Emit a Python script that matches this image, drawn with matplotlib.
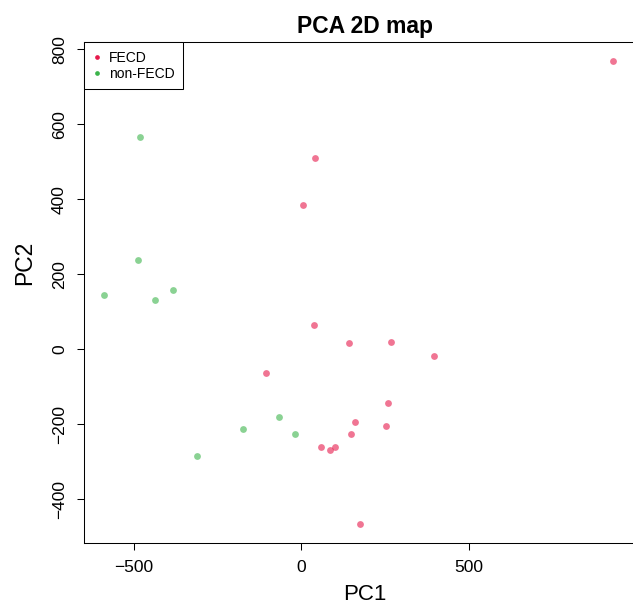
import matplotlib
matplotlib.use("Agg")
import matplotlib.pyplot as plt
from matplotlib.lines import Line2D

plt.rcParams['font.family'] = ['Liberation Sans', 'DejaVu Sans']

# PCA coordinates
fecd_pc1 = [931, 41, 5, 38, -107, 142, 267, 395, 258, 160, 253, 147, 59, 100, 84, 174]
fecd_pc2 = [768, 509, 384, 64, -62, 17, 20, -19, -142, -194, -205, -226, -260, -261, -270, -467]

non_pc1 = [-482, -488, -589, -439, -384, -66, -174, -19, -311]
non_pc2 = [567, 238, 146, 131, 158, -181, -212, -227, -284]

groups = ['FECD', 'non-FECD']
colors = ['#E6194B', '#3CB44B']

W, H = 633, 607
fig = plt.figure(figsize=(W / 100, H / 100), dpi=100)

# plot box: left 84px, top 42px, bottom 543px, right edge falls outside the picture
left, right, top, bottom = 84, 646, 42.3, 542.7
ax = fig.add_axes([left / W, 1 - bottom / H, (right - left) / W, (bottom - top) / H])

ax.scatter(non_pc1, non_pc2, s=24, color=colors[1], alpha=0.6, linewidths=0)
ax.scatter(fecd_pc1, fecd_pc2, s=24, color=colors[0], alpha=0.6, linewidths=0)

ax.set_xlim(-650, 1030)
ax.set_ylim(-516, 819)
ax.set_xticks([-500, 0, 500])
ax.set_yticks([-400, -200, 0, 200, 400, 600, 800])

for s in ax.spines.values():
    s.set_linewidth(0.75)
    s.set_color('black')

ax.tick_params(axis='both', direction='out', length=5.3, width=0.75, labelsize=12.5, pad=7)
for lab in ax.get_yticklabels():
    lab.set_rotation(90)
    lab.set_va('center')

fig.text(365 / W, 1 - 26 / H, 'PCA 2D map', ha='center', va='center',
         fontsize=16.5, fontweight='bold')
fig.text(365 / W, 1 - 595 / H, 'PC1', ha='center', va='center', fontsize=16)
fig.text(25 / W, 1 - 263 / H, 'PC2', ha='center', va='center', fontsize=16.5, rotation=90)

handles = [Line2D([], [], linestyle='none', marker='o', markersize=3.4,
                  markerfacecolor=c, markeredgecolor='none') for c in colors]
leg = ax.legend(handles, groups, loc='upper left', bbox_to_anchor=(0, 1),
                borderaxespad=0, fontsize=10, frameon=True, fancybox=False,
                edgecolor='black', framealpha=1, borderpad=0.6,
                handlelength=0.62, handletextpad=0.58, labelspacing=0.18)
leg.get_frame().set_linewidth(0.75)

fig.savefig('out.png', dpi=100)
